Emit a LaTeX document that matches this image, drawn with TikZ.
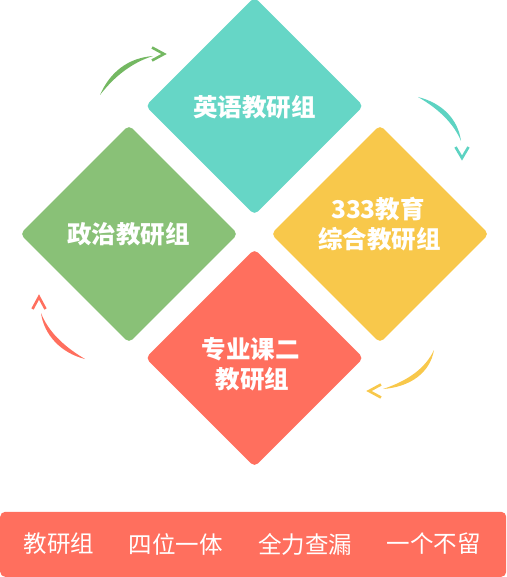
\documentclass[tikz,border=0pt]{standalone}
\usepackage{fontspec}
\setmainfont{Noto Sans CJK SC}
\usetikzlibrary{shapes.geometric}
\definecolor{cteal}{HTML}{66D6C6}
\definecolor{cgreen}{HTML}{89C177}
\definecolor{cyellow}{HTML}{F8C84B}
\definecolor{cred}{HTML}{FF6F5E}
\definecolor{agreen}{HTML}{74B862}
\definecolor{ateal}{HTML}{5DD3C2}
\begin{document}
\begin{tikzpicture}[x=1pt,y=-1pt,
  dia/.style={diamond, fill=#1, minimum width=218pt, minimum height=218pt, inner sep=0pt, rounded corners=5pt},
  ditext/.style={text=white, font=\bfseries\fontsize{24.5}{30}\selectfont, inner sep=0pt},
  chev/.style={draw=#1, line width=2.6pt},
  bartext/.style={text=white, font=\fontsize{23.5}{28}\selectfont, inner sep=0pt}]
\useasboundingbox (0,0) rectangle (506,577);
% diamonds
\node[dia=cteal] (eng) at (254.5,106) {};
\node[dia=cgreen] (pol) at (129,234) {};
\node[dia=cyellow] (edu) at (380,234) {};
\node[dia=cred] (pro) at (254.5,358) {};
\node[ditext] (engt) at (254.5,107.5) {英语教研组};
\node[ditext] (polt) at (128.5,234) {政治教研组};
\node[ditext] (edut1) at (378,209.5) {333教育};
\node[ditext] (edut2) at (379.5,239) {综合教研组};
\node[ditext] (prot1) at (250.5,349.5) {专业课二};
\node[ditext] (prot2) at (252.5,379.5) {教研组};
% arrows
\fill[agreen] (100,95) .. controls (110,72) and (128,58) .. (153,56) .. controls (131,63) and (114,77) .. (100,95) -- cycle;
\draw[chev=agreen] (152,47.5) -- (164,54) -- (152,60.5);
\fill[ateal] (418,97) .. controls (442,103) and (458,119) .. (461,141) .. controls (454,124) and (439,109) .. (418,97) -- cycle;
\draw[chev=ateal] (455.5,147) -- (462,158) -- (468.5,147);
\fill[cyellow] (434,350) .. controls (430,373) and (410,387) .. (383,389) .. controls (407,381) and (425,369) .. (434,350) -- cycle;
\draw[chev=cyellow] (381,384.5) -- (369,391) -- (381,397.5);
\fill[cred] (85,359) .. controls (61,353) and (44,335) .. (41,313) .. controls (48,331) and (63,346) .. (85,359) -- cycle;
\draw[chev=cred] (32.5,309) -- (39,297) -- (45.5,309);
% bottom bar
\node[fill=cred, rounded corners=5pt, minimum width=506pt, minimum height=65pt, inner sep=0pt, anchor=south west] (bar) at (0,577) {};
\node[bartext] (t1) at (59,544) {教研组};
\node[bartext] (t2) at (175.5,544) {四位一体};
\node[bartext] (t3) at (305,544) {全力查漏};
\node[bartext] (t4) at (433.5,544) {一个不留};
\end{tikzpicture}
\end{document}
